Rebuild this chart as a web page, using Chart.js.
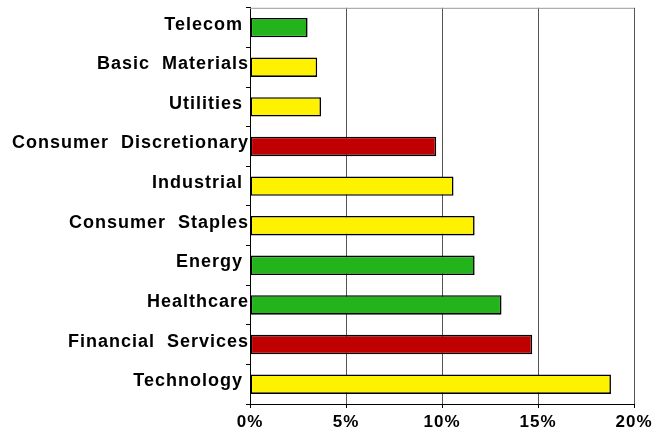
<!DOCTYPE html>
<html lang="en">
<head>
  <meta charset="UTF-8" />
  <title>Sector Weights</title>
  <style>
    body { margin: 0; background: #fff; }
    canvas { display: block; }
  </style>
</head>
<body>
  <canvas id="sectorChart" width="667" height="432"></canvas>

  <script src="https://cdn.jsdelivr.net/npm/chart.js"></script>
  <script>
    // sector weights in %, top to bottom as in the picture
    const sectors = ['Telecom ', 'Basic  Materials', 'Utilities ', 'Consumer  Discretionary', 'Industrial ',
                     'Consumer  Staples', 'Energy ', 'Healthcare', 'Financial  Services', 'Technology '];
    const weights = [3.0, 3.5, 3.7, 9.7, 10.6, 11.7, 11.7, 13.1, 14.7, 18.8];
    const xTicks = [0, 5, 10, 15, 20];

    const GREEN = '#22b41a', YELLOW = '#fff200', RED = '#c00000';
    const barColors = [GREEN, YELLOW, YELLOW, RED, YELLOW, YELLOW, GREEN, GREEN, RED, YELLOW];

    // the labels in the picture are spaced out a little
    const spacing = {
      id: 'spacing',
      beforeLayout(chart) { chart.ctx.letterSpacing = '1px'; },
      beforeDraw(chart) { chart.ctx.letterSpacing = '1px'; }
    };

    // thin gray line along the top of the plot area
    const topLine = {
      id: 'topLine',
      afterDraw(chart) {
        const { ctx, chartArea: a } = chart;
        ctx.save();
        ctx.strokeStyle = '#999';
        ctx.lineWidth = 1;
        ctx.beginPath();
        ctx.moveTo(a.left, a.top + 0.5);
        ctx.lineTo(a.right, a.top + 0.5);
        ctx.stroke();
        ctx.restore();
      }
    };

    const family = '"Liberation Sans", Arial, sans-serif';

    const ctx = document.getElementById('sectorChart').getContext('2d');
    new Chart(ctx, {
      type: 'bar',
      data: {
        labels: sectors,
        datasets: [{
          data: weights,
          backgroundColor: barColors,
          borderColor: '#000',
          borderWidth: 1.6,
          borderSkipped: false,
          barPercentage: 0.49,
          categoryPercentage: 1
        }]
      },
      options: {
        indexAxis: 'y',
        responsive: false,
        animation: false,
        layout: { padding: { top: 6, right: 33, left: 0, bottom: 0 } },
        plugins: { legend: { display: false }, tooltip: { enabled: false } },
        scales: {
          x: {
            min: 0,
            max: 20,
            afterFit: s => { s.height = 28; },
            afterBuildTicks: s => { s.ticks = xTicks.map(v => ({ value: v })); },
            grid: { color: '#555', lineWidth: 1, tickColor: '#000', tickLength: 4 },
            border: { color: '#000', width: 1 },
            ticks: {
              padding: 4,
              color: '#000',
              font: { family: family, size: 17, weight: 'bold' },
              callback: v => v + '%'
            }
          },
          y: {
            afterFit: s => { s.width = 250; },
            grid: { offset: true, drawOnChartArea: false, tickColor: '#000', tickLength: 4 },
            border: { color: '#000', width: 1 },
            ticks: {
              padding: -3,
              labelOffset: -3,
              color: '#000',
              font: { family: family, size: 18, weight: 'bold' }
            }
          }
        }
      },
      plugins: [spacing, topLine]
    });
  </script>
</body>
</html>
